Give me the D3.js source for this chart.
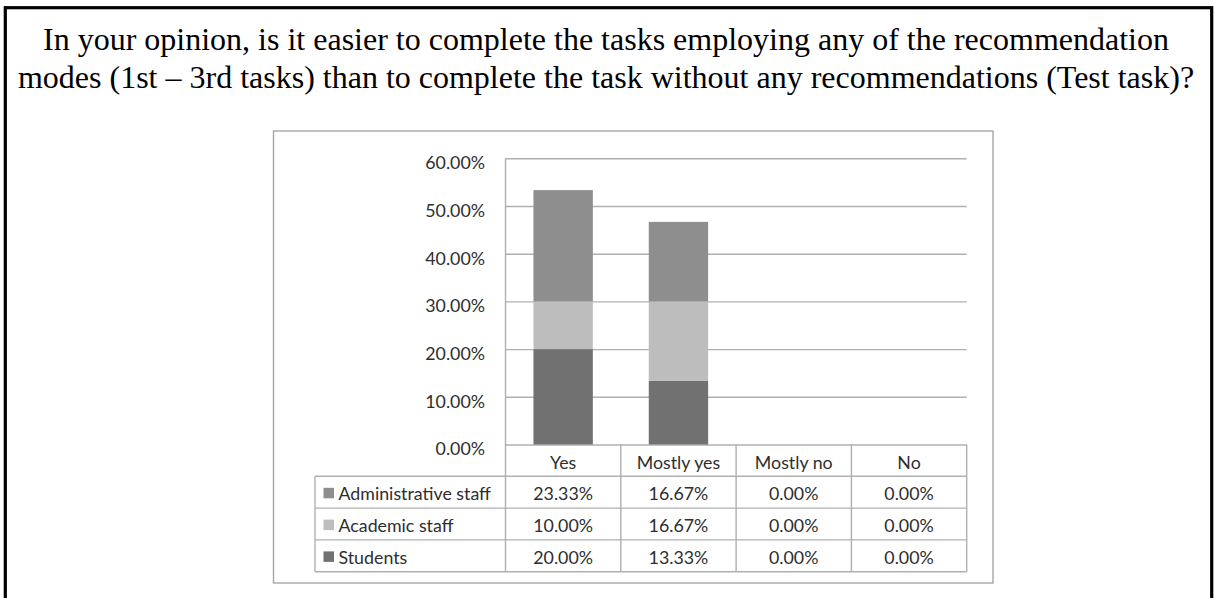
<!DOCTYPE html>
<html>
<head>
<meta charset="utf-8">
<script src="https://cdn.jsdelivr.net/npm/d3@7"></script>
<style>
  html, body { margin: 0; padding: 0; background: #fff; }
  svg { display: block; }
</style>
</head>
<body>
<svg id="chart" width="1214" height="598"></svg>
<script>
// Survey answers, percent of respondents per group
const categories = ["Yes", "Mostly yes", "Mostly no", "No"];
const groups = ["Administrative staff", "Academic staff", "Students"];
const administrativeStaff = [23.33, 16.67, 0, 0];
const academicStaff = [10.00, 16.67, 0, 0];
const students = [20.00, 13.33, 0, 0];
const yTicks = [0, 10, 20, 30, 40, 50, 60];
const titleLines = [
  "In your opinion, is it easier to complete the tasks employing any of the recommendation",
  "modes (1st \u2013 3rd tasks) than to complete the task without any recommendations (Test task)?"
];

const seriesValues = {
  "Administrative staff": administrativeStaff,
  "Academic staff": academicStaff,
  "Students": students
};
const colors = {
  "Administrative staff": "#8e8e8e",
  "Academic staff": "#bdbdbd",
  "Students": "#717171"
};

const svg = d3.select("#chart");
const chartFont = "Lato, 'Open Sans', sans-serif";
const chartFontSize = 17.8;
const textColor = "#2e2e2e";
const lineColor = "#b0b0b0";

// outer frame
svg.append("rect")
  .attr("x", 5.3).attr("y", 7.7)
  .attr("width", 1206.4).attr("height", 700)
  .attr("fill", "none").attr("stroke", "#000").attr("stroke-width", 3.2);

// title
svg.append("g")
  .selectAll("text").data(titleLines).join("text")
  .attr("x", 606)
  .attr("y", (d, i) => 49.5 + i * 38)
  .attr("text-anchor", "middle")
  .attr("font-family", "'Liberation Serif', 'Times New Roman', serif")
  .attr("font-size", 32)
  .attr("fill", "#000")
  .text(d => d);

// chart frame
svg.append("rect")
  .attr("x", 273.5).attr("y", 131)
  .attr("width", 719.5).attr("height", 452)
  .attr("fill", "#fff").attr("stroke", "#a6a6a6").attr("stroke-width", 1.4);

const plotLeft = 505.5, plotRight = 966.7, plotTop = 158.3, plotBottom = 444.5;
const y = d3.scaleLinear().domain([0, 60]).range([plotBottom, plotTop]);
const xCol = d3.scaleBand().domain(categories).range([plotLeft, plotRight]);
const xBar = d3.scaleBand().domain(categories).range([plotLeft, plotRight])
  .paddingInner(0.485).paddingOuter(0.2425);

// gridlines + y axis labels
const yAxis = d3.axisLeft(y)
  .tickValues(yTicks)
  .tickSize(-(plotRight - plotLeft))
  .tickFormat(d => d.toFixed(2) + "%");
const gy = svg.append("g").attr("transform", `translate(${plotLeft},0)`).call(yAxis);
gy.select(".domain").remove();
gy.selectAll(".tick line").attr("stroke", lineColor).attr("stroke-width", 1.4);
gy.selectAll(".tick text")
  .attr("x", -20.5)
  .attr("dy", 10.3)
  .attr("font-family", chartFont)
  .attr("font-size", chartFontSize)
  .attr("fill", textColor);

// stacked bars: Students at the bottom, then Academic, then Administrative
const stackOrder = ["Students", "Academic staff", "Administrative staff"];
const rows = categories.map((c, i) => {
  const r = { category: c };
  groups.forEach(g => { r[g] = seriesValues[g][i]; });
  return r;
});
const stacked = d3.stack().keys(stackOrder)(rows);
svg.append("g").selectAll("g").data(stacked).join("g")
  .attr("fill", d => colors[d.key])
  .selectAll("rect").data(d => d.filter(p => p[1] - p[0] > 0)).join("rect")
  .attr("x", d => xBar(d.data.category))
  .attr("width", xBar.bandwidth())
  .attr("y", d => y(d[1]))
  .attr("height", d => y(d[0]) - y(d[1]));

// data table under the plot
const rowH = 31.8;
const headerTop = plotBottom;
const tableTop = headerTop + rowH;
const tableBottom = tableTop + rowH * groups.length;
const legendLeft = 315;
const table = svg.append("g")
  .attr("stroke", lineColor).attr("stroke-width", 1.4).attr("fill", "none");

// vertical axis line through the plot and table
table.append("line")
  .attr("x1", plotLeft).attr("x2", plotLeft).attr("y1", plotTop).attr("y2", tableBottom);
// column separators
categories.forEach(c => {
  const xr = xCol(c) + xCol.bandwidth();
  table.append("line").attr("x1", xr).attr("x2", xr).attr("y1", headerTop).attr("y2", tableBottom);
});
// horizontal row lines
d3.range(groups.length + 1).forEach(i => {
  const yy = tableTop + i * rowH;
  table.append("line").attr("x1", legendLeft).attr("x2", plotRight).attr("y1", yy).attr("y2", yy);
});
table.append("line")
  .attr("x1", legendLeft).attr("x2", legendLeft).attr("y1", tableTop).attr("y2", tableBottom);

// header labels
svg.append("g").selectAll("text").data(categories).join("text")
  .attr("x", d => xCol(d) + xCol.bandwidth() / 2)
  .attr("y", headerTop + 24)
  .attr("text-anchor", "middle")
  .attr("font-family", chartFont).attr("font-size", chartFontSize).attr("fill", textColor)
  .text(d => d);

// legend column and values
groups.forEach((g, gi) => {
  const rowTop = tableTop + gi * rowH;
  svg.append("rect")
    .attr("x", 323.5).attr("y", rowTop + 11.5)
    .attr("width", 10.5).attr("height", 10.5)
    .attr("fill", colors[g]);
  svg.append("text")
    .attr("x", 338.5).attr("y", rowTop + 24)
    .attr("font-family", chartFont).attr("font-size", chartFontSize).attr("fill", textColor)
    .text(g);
  svg.append("g").selectAll("text").data(seriesValues[g]).join("text")
    .attr("x", (d, i) => xCol(categories[i]) + xCol.bandwidth() / 2)
    .attr("y", rowTop + 24)
    .attr("text-anchor", "middle")
    .attr("font-family", chartFont).attr("font-size", chartFontSize).attr("fill", textColor)
    .text(d => d.toFixed(2) + "%");
});
</script>
</body>
</html>
